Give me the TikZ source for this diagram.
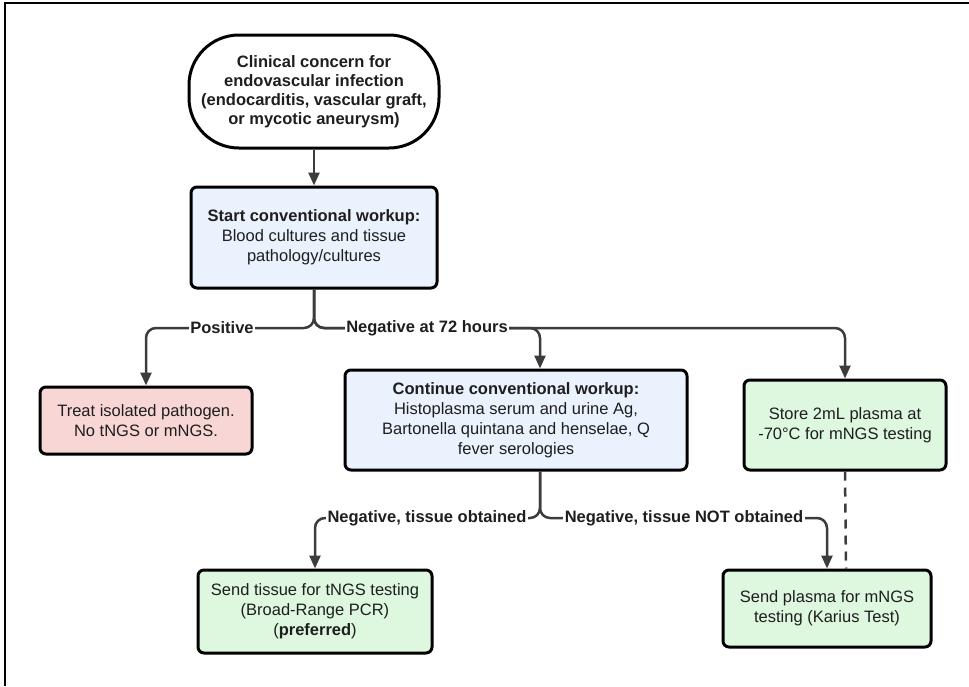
\documentclass[tikz,border=0pt]{standalone}
\usepackage{fontspec}
\setmainfont{Liberation Sans}
\usetikzlibrary{arrows.meta,calc}
\definecolor{bluefill}{HTML}{EAF2FD}
\definecolor{redfill}{HTML}{F9D6D6}
\definecolor{greenfill}{HTML}{DEF7DF}
\definecolor{conncol}{HTML}{3C3C3C}
\definecolor{txtcol}{HTML}{1E1E1E}
\newcommand{\dgfont}{\fontsize{16.5}{20}\selectfont}
\begin{document}
\begin{tikzpicture}[x=1pt,y=-1pt,
  box/.style={draw=black,line width=3pt,rounded corners=6pt,align=center,inner sep=0pt,font=\dgfont,text=txtcol},
  terminal/.style={draw=black,line width=3pt,rounded corners=50pt,align=center,inner sep=0pt,fill=white,font=\fontsize{16.5}{19}\selectfont\bfseries,text=txtcol},
  conn/.style={draw=conncol,line width=2.5pt,rounded corners=10pt,-{Triangle[length=13pt,width=11pt]}},
  dashconn/.style={draw=conncol,line width=2.5pt,dash pattern=on 9pt off 7pt},
  lbl/.style={fill=white,inner sep=1.5pt,font=\dgfont\bfseries,text=txtcol},
  frame/.style={draw=black,line width=1.5pt}]
\useasboundingbox (0,0) rectangle (969,686);
\draw[frame] (5,686) -- (5,3) -- (969,3);

\node[terminal,minimum width=250pt,minimum height=113pt] (top) at (314,91.5)
  {Clinical concern for\\endovascular infection\\(endocarditis, vascular graft,\\or mycotic aneurysm)};
\node[box,fill=bluefill,minimum width=246pt,minimum height=101pt] (start) at (314,237.5)
  {\textbf{Start conventional workup:}\\Blood cultures and tissue\\pathology/cultures};
\node[box,fill=redfill,minimum width=212pt,minimum height=67pt] (treat) at (146,420.5)
  {Treat isolated pathogen.\\No tNGS or mNGS.};
\node[box,fill=bluefill,minimum width=342pt,minimum height=100pt] (cont) at (516,420)
  {\textbf{Continue conventional workup:}\\Histoplasma serum and urine Ag,\\Bartonella quintana and henselae, Q\\fever serologies};
\node[box,fill=greenfill,minimum width=202pt,minimum height=90pt] (store) at (845,425)
  {Store 2mL plasma at\\-70°C for mNGS testing};
\node[box,fill=greenfill,minimum width=234pt,minimum height=83pt] (tissue) at (315,611.5)
  {Send tissue for tNGS testing\\(Broad-Range PCR)\\(\textbf{preferred})};
\node[box,fill=greenfill,minimum width=208pt,minimum height=77pt] (plasma) at (827,608.5)
  {Send plasma for mNGS\\testing (Karius Test)};

\coordinate (hy) at (0,328);
\coordinate (ly) at (0,518);
\coordinate (cin) at ([xshift=24pt]cont.north);
\coordinate (cout) at ([xshift=24pt]cont.south);
\coordinate (pin) at ([xshift=19pt]plasma.north);

\draw[conn] (top.south) -- (start.north);
\draw[conn] (start.south) -- (start.south |- hy) -| (treat.north);
\draw[conn] (start.south) -- (start.south |- hy) -| (store.north);
\draw[conn] (start.south) -- (start.south |- hy) -| (cin);
\draw[conn] (cout) -- (cout |- ly) -| (tissue.north);
\draw[conn] (cout) -- (cout |- ly) -| (plasma.north);
\draw[dashconn] (store.south) -- (pin);

\node[lbl] (lpos) at (222,328) {Positive};
\node[lbl] (lneg) at (427,328) {Negative at 72 hours};
\node[lbl] (lto) at (427,518) {Negative, tissue obtained};
\node[lbl] (lnto) at (684,518) {Negative, tissue NOT obtained};
\end{tikzpicture}
\end{document}
